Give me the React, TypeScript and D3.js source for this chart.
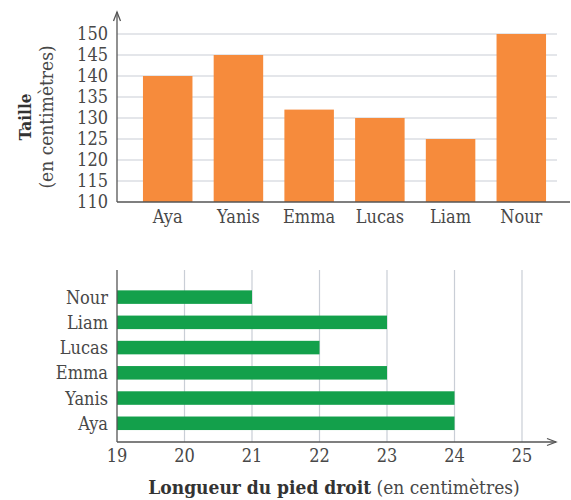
import React from "react";
import * as d3 from "d3";

const names = ["Aya", "Yanis", "Emma", "Lucas", "Liam", "Nour"];
const heights = [140, 145, 132, 130, 125, 150];
const feetNames = ["Nour", "Liam", "Lucas", "Emma", "Yanis", "Aya"];
const feet = [21, 23, 22, 23, 24, 24];
const heightTicks = [110, 115, 120, 125, 130, 135, 140, 145, 150];
const footTicks = [19, 20, 21, 22, 23, 24, 25];

const ORANGE = "#F68B3C";
const GREEN = "#13A04B";
const AXIS = "#555";
const GRID = "#c9ced6";
const TEXT = "#484848";
const FONT = "'DejaVu Serif Condensed', 'DejaVu Serif', serif";

export default function App() {
  const W = 571, H = 500;
  // top chart
  const x1 = d3.scaleBand().domain(names).range([132, 557]).paddingInner(0.3).paddingOuter(0.155);
  const y1 = d3.scaleLinear().domain([110, 150]).range([202, 34]);
  const axisX = 117;
  // bottom chart
  const x2 = d3.scaleLinear().domain([19, 25]).range([117, 522]);
  const y2 = d3.scaleBand().domain(feetNames).range([284.5, 435.9]).paddingInner(0.464).paddingOuter(0.232);
  const base2 = 442;

  return (
    <svg width={W} height={H} style={{ position: "absolute", left: 0, top: 0, background: "#fff" }}>
      <g fontFamily={FONT} fill={TEXT}>
        {/* top gridlines */}
        {heightTicks.slice(1).map((t) => (
          <line key={"g" + t} x1={axisX} x2={557} y1={y1(t)} y2={y1(t)} stroke={GRID} strokeWidth={1.2} />
        ))}
        {names.map((n, i) => (
          <rect key={n} x={x1(n)} width={x1.bandwidth()} y={y1(heights[i])} height={y1(110) - y1(heights[i])} fill={ORANGE} />
        ))}
        {/* axes */}
        <line x1={axisX} x2={570} y1={y1(110)} y2={y1(110)} stroke={AXIS} strokeWidth={1.3} />
        <line x1={axisX} x2={axisX} y1={y1(110)} y2={12} stroke={AXIS} strokeWidth={1.3} />
        <path d={`M${axisX - 3.5},${21} L${axisX},${12} L${axisX + 3.5},${21}`} fill="none" stroke={AXIS} strokeWidth={1.3} />
        {heightTicks.map((t) => (
          <text key={"t" + t} x={108} y={y1(t)} dy="0.36em" textAnchor="end" fontSize={18}>{t}</text>
        ))}
        {names.map((n) => (
          <text key={"l" + n} x={(x1(n) as number) + x1.bandwidth() / 2} y={223} textAnchor="middle" fontSize={18}>{n}</text>
        ))}
        <g transform="translate(31,117) rotate(-90)">
          <text textAnchor="middle" fontWeight="bold" fontSize={17} fill="#333">Taille</text>
        </g>
        <g transform="translate(53,117) rotate(-90)">
          <text textAnchor="middle" fontSize={19}>(en centimètres)</text>
        </g>

        {/* bottom chart */}
        {footTicks.slice(1).map((t) => (
          <line key={"v" + t} x1={x2(t)} x2={x2(t)} y1={270} y2={base2} stroke={GRID} strokeWidth={1.2} />
        ))}
        {feetNames.map((n, i) => (
          <rect key={"b" + n} x={x2(19)} width={x2(feet[i]) - x2(19)} y={y2(n)} height={y2.bandwidth()} fill={GREEN} />
        ))}
        <line x1={117} x2={117} y1={270} y2={base2} stroke={AXIS} strokeWidth={1.3} />
        <line x1={117} x2={556} y1={base2} y2={base2} stroke={AXIS} strokeWidth={1.3} />
        <path d={`M${547},${base2 - 3.5} L${556},${base2} L${547},${base2 + 3.5}`} fill="none" stroke={AXIS} strokeWidth={1.3} />
        {footTicks.map((t) => (
          <text key={"f" + t} x={x2(t)} y={462} textAnchor="middle" fontSize={18}>{t}</text>
        ))}
        {feetNames.map((n) => (
          <text key={"fl" + n} x={108} y={(y2(n) as number) + y2.bandwidth() / 2} dy="0.36em" textAnchor="end" fontSize={18}>{n}</text>
        ))}
        <text x={334} y={494} textAnchor="middle" fontSize={19}>
          <tspan fontWeight="bold" fill="#333">Longueur du pied droit</tspan>
          <tspan> (en centimètres)</tspan>
        </text>
      </g>
    </svg>
  );
}
